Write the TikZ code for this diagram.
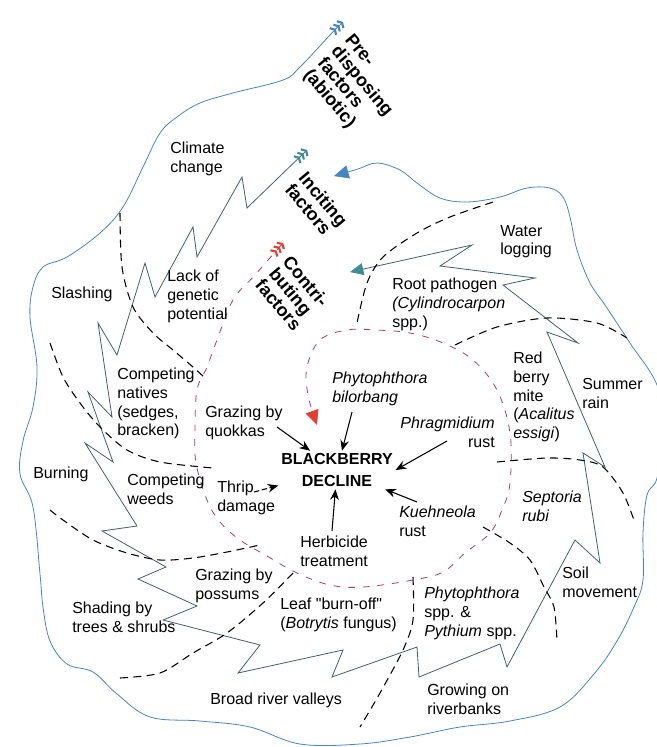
\documentclass[tikz,border=0pt]{standalone}
\usepackage{fontspec}
\setmainfont{Liberation Sans}
\usetikzlibrary{arrows.meta}

\definecolor{abioblue}{RGB}{72,132,190}
\definecolor{incitline}{RGB}{62,96,108}
\definecolor{incitteal}{RGB}{64,140,146}
\definecolor{contrired}{RGB}{178,58,88}
\definecolor{fletchred}{RGB}{222,64,52}

% straight double quote, past the TeX ligature mapping
\newcommand{\dquote}{\XeTeXglyph\XeTeXcharglyph"22\relax}

\begin{document}
\begin{tikzpicture}[x=0.75pt,y=-0.75pt,
    lbl/.style={inner sep=0pt,anchor=north west,align=left,font=\fontsize{12}{14}\selectfont},
    factor/.style={inner sep=0pt,anchor=north west,align=left,rotate=-50,font=\fontsize{13.5}{13.5}\selectfont\bfseries},
    feed/.style={thick,-{Stealth[length=8pt,width=6.5pt]}},
    sector/.style={line width=0.8pt,dash pattern=on 6pt off 4pt},
    abiotic/.style={abioblue,line width=0.6pt,
      {Straight Barb[length=2pt,width=7pt,line width=1.6pt]Straight Barb[length=2pt,width=7pt,line width=1.6pt]Straight Barb[length=2pt,width=7pt,line width=1.6pt]}-{Triangle[length=11pt,width=10pt]}},
    inciting/.style={incitline,line width=0.6pt,line join=miter,
      {Straight Barb[length=2pt,width=7pt,line width=1.6pt,color=incitteal]Straight Barb[length=2pt,width=7pt,line width=1.6pt,color=incitteal]Straight Barb[length=2pt,width=7pt,line width=1.6pt,color=incitteal]}-{Triangle[length=10pt,width=9pt,color=incitteal]}},
    contrib/.style={contrired,line width=0.6pt,dash pattern=on 5pt off 6pt,
      {Straight Barb[length=2pt,width=7pt,line width=1.6pt,color=fletchred]Straight Barb[length=2pt,width=7pt,line width=1.6pt,color=fletchred]Straight Barb[length=2pt,width=7pt,line width=1.6pt,color=fletchred]}-{Triangle[length=11pt,width=10pt,color=fletchred]}}
  ]
  \useasboundingbox (0,0) rectangle (657,747);

  % predisposing factors: outer blue spiral
  \draw[abiotic] plot[smooth,tension=0.6] coordinates {(343,22) (330,35) (300,67)
    (283,80) (233,93) (200,103) (177,117) (160,133) (143,167) (123,207) (100,233)
    (67,257) (43,267) (33,287) (30,317) (37,367) (33,407) (23,441) (20,474) (33,507)
    (40,574) (43,607) (50,641) (67,664) (93,672) (117,694) (150,717) (200,721)
    (250,727) (300,744) (360,744) (410,737) (460,727) (510,721) (560,707) (594,674)
    (617,641) (634,607) (643,580) (643,533) (647,495) (657,478) (664,430) (657,385)
    (630,343) (605,305) (590,283) (577,250) (570,217) (563,197) (550,188) (527,188)
    (500,197) (467,202) (440,198) (417,183) (400,170) (377,163) (358,169) (334,176)};

  % inciting factors: zigzag
  \draw[inciting] (307,150) -- (247,208) -- (242,177) -- (197,257) -- (193,227)
    -- (155,297) -- (145,263) -- (117,355) -- (98,323) -- (112,417) -- (88,392)
    -- (113,462) -- (85,443) -- (137,526) -- (102,531) -- (166,567) -- (138,579)
    -- (197,606) -- (163,620) -- (260,645) -- (238,673) -- (343,650) -- (332,677)
    -- (417,647) -- (419,677) -- (500,644) -- (507,667) -- (575,540) -- (600,563)
    -- (583,453) -- (605,467) -- (547,332) -- (578,343) -- (503,285) -- (535,278)
    -- (440,266) -- (472,245) -- (350,272);

  % contributing factors: red dashed spiral
  \draw[contrib] plot[smooth,tension=0.6] coordinates {(283,243) (255,275) (233,300)
    (217,340) (207,367) (197,390) (195,430) (196,463) (207,500) (220,522) (240,540)
    (267,556) (297,573) (330,585) (363,587) (413,580) (443,572) (465,553) (490,533)
    (502,510) (510,483) (510,433) (497,390) (473,360) (443,343) (410,333) (375,330)
    (347,330) (320,340) (307,367) (308,395) (317,425)};

  % sector borders
  \draw[sector] plot[smooth] coordinates {(120,213) (122,267) (133,307) (153,333) (173,350) (193,367) (205,378)};
  \draw[sector] plot[smooth] coordinates {(50,343) (63,377) (80,403) (100,427) (127,450) (160,462) (213,468)};
  \draw[sector] plot[smooth] coordinates {(50,510) (63,520) (93,540) (127,553) (160,560) (193,558) (227,552) (260,545)};
  \draw[sector] plot[smooth] coordinates {(120,678) (160,673) (193,653) (227,633) (263,603) (293,573)};
  \draw[sector] plot[smooth] coordinates {(413,577) (413,620) (403,650) (380,693) (360,727)};
  \draw[sector] plot[smooth] coordinates {(483,527) (510,543) (530,560) (544,587) (554,607) (557,641)};
  \draw[sector] plot[smooth] coordinates {(497,462) (547,458) (580,460) (603,467) (623,493) (635,523)};
  \draw[sector] plot[smooth] coordinates {(455,345) (497,327) (547,318) (597,323) (627,338)};
  \draw[sector] plot[smooth] coordinates {(493,202) (450,217) (417,233) (383,257) (367,283) (357,323)};

  % factor titles
  \node[factor] (predisp) at (354,32) {Pre-\\disposing\\factors\\(abiotic)};
  \node[factor] (incit) at (308,170) {Inciting\\factors};
  \node[factor] (contri) at (292,254) {Contri-\\buting\\factors};

  % labels
  \node[lbl] (climate) at (170,142) {Climate\\change};
  \node[lbl] (lackgen) at (167,270) {Lack of\\genetic\\potential};
  \node[lbl] (slashing) at (51,287) {Slashing};
  \node[lbl] (natives) at (117,368) {Competing\\natives\\(sedges,\\bracken)};
  \node[lbl] (quokka) at (205,406) {Grazing by\\quokkas};
  \node[lbl] (burning) at (33,467) {Burning};
  \node[lbl] (weeds) at (127,474) {Competing\\weeds};
  \node[lbl] (thrip) at (217,481) {Thrip\\damage};
  \node[lbl] (possums) at (195,569) {Grazing by\\possums};
  \node[lbl] (shading) at (72,602) {Shading by\\trees \& shrubs};
  \node[lbl] (leaf) at (280,598) {Leaf \dquote burn-off\dquote\\(\textit{Botrytis} fungus)};
  \node[lbl] (valleys) at (210,693) {Broad river valleys};
  \node[lbl] (riverbank) at (427,684) {Growing on\\riverbanks};
  \node[lbl] (phytopyth) at (424,587) {\textit{Phytophthora}\\spp. \&\\\textit{Pythium} spp.};
  \node[lbl] (soil) at (562,567) {Soil\\movement};
  \node[lbl] (septoria) at (522,491) {\textit{Septoria}\\\textit{rubi}};
  \node[lbl] (kuehneola) at (399,506) {\textit{Kuehneola}\\rust};
  \node[lbl] (herbicide) at (300,536) {Herbicide\\treatment};
  \node[lbl] (bilorbang) at (332,372) {\textit{Phytophthora}\\\textit{bilorbang}};
  \node[lbl,anchor=north east,align=right] (phragmid) at (495,417) {\textit{Phragmidium}\\rust};
  \node[lbl] (mite) at (513,352) {Red\\berry\\mite\\(\textit{Acalitus}\\\textit{essigi})};
  \node[lbl] (summer) at (582,378) {Summer\\rain};
  \node[lbl] (water) at (500,225) {Water\\logging};
  \node[lbl] (rootpath) at (392,278) {Root pathogen\\\textit{(Cylindrocarpon}\\spp.)};

  \node[inner sep=2pt,align=center,font=\fontsize{12}{16}\selectfont\bfseries] (decline) at (337,470) {BLACKBERRY\\DECLINE};

  % arrows into the decline
  \coordinate (quokka-from) at (277,427);
  \coordinate (bilorbang-from) at (352,412);
  \coordinate (phragmid-from) at (447,441);
  \coordinate (kuehneola-from) at (417,502);
  \coordinate (herbicide-from) at (332,531);
  \coordinate (thrip-from) at (254,492);
  \draw[feed] (quokka-from) -- (decline);
  \draw[feed] (bilorbang-from) -- (decline);
  \draw[feed] (phragmid-from) -- (decline.east);
  \draw[feed] (kuehneola-from) -- (decline);
  \draw[feed] (herbicide-from) -- (decline);
  \draw[feed,dash pattern=on 4pt off 2pt] (thrip-from) -- (decline);
\end{tikzpicture}
\end{document}
